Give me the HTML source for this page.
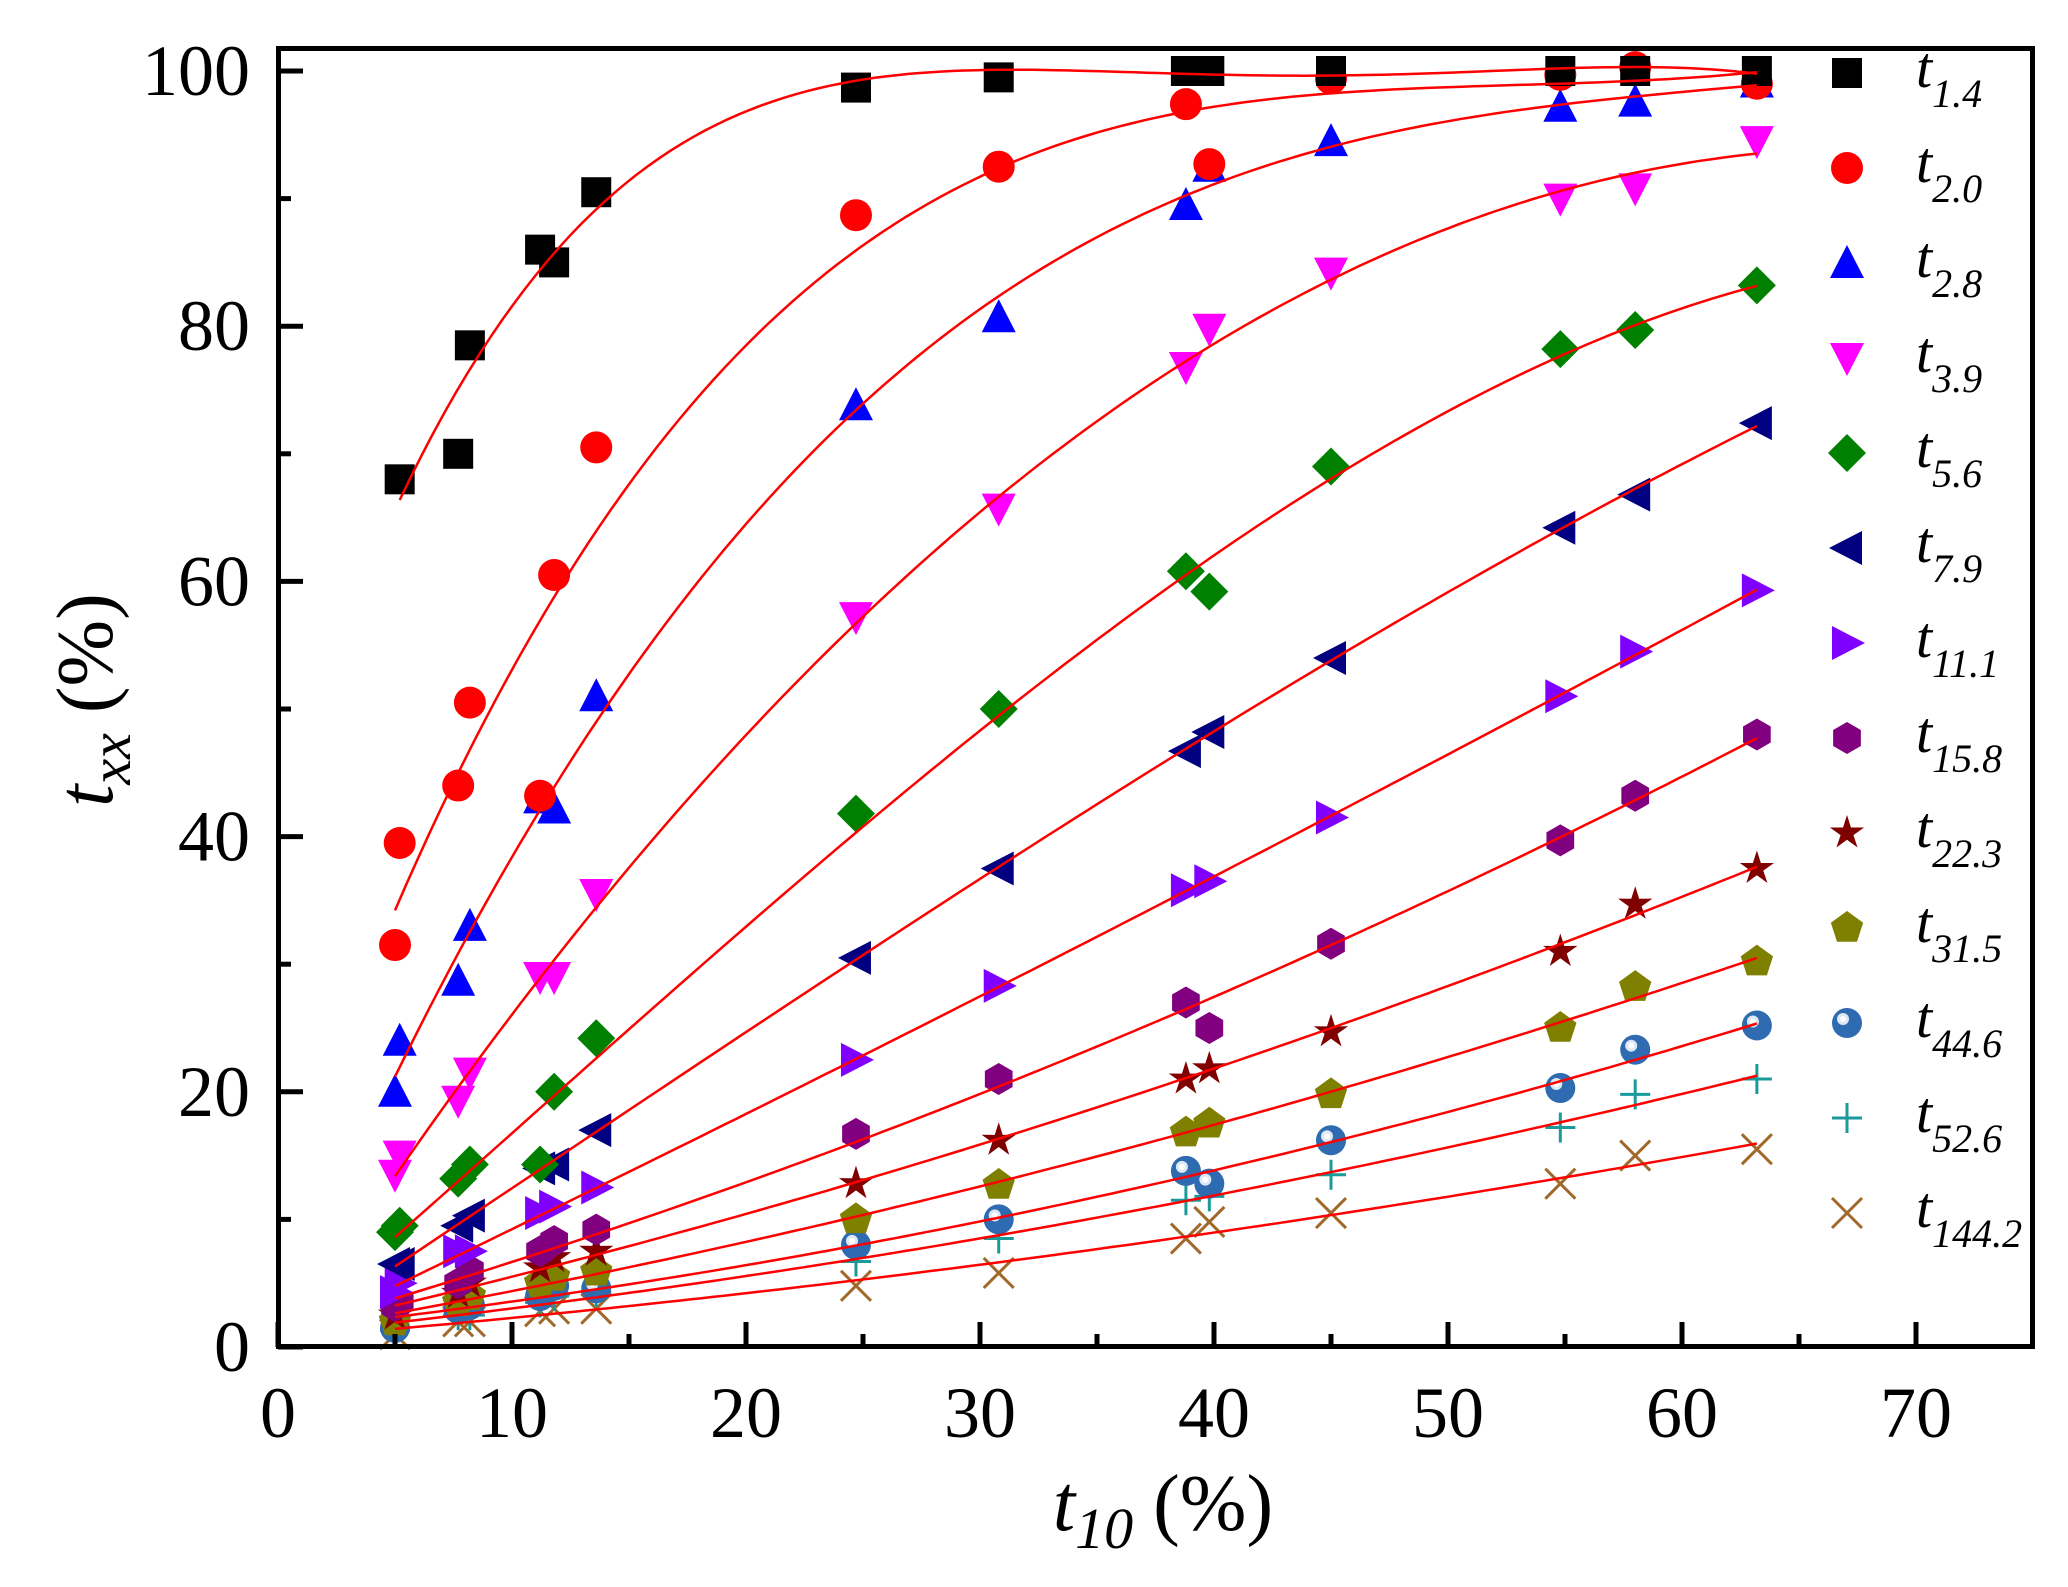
<!DOCTYPE html>
<html><head><meta charset="utf-8">
<style>
html,body{margin:0;padding:0;background:#fff;}
svg, svg text{font-family:"Liberation Serif","Times New Roman",Times,serif;}
</style></head>
<body>
<svg id="s" width="2068" height="1582" viewBox="0 0 2068 1582" xmlns="http://www.w3.org/2000/svg" font-family="Liberation Serif, Times New Roman, serif">
<rect width="2068" height="1582" fill="#fff"/>
<g id="plot"></g>
<rect x="278.5" y="48.5" width="1754" height="1298" fill="none" stroke="#000" stroke-width="5"/>
<g stroke="#000" stroke-width="5" id="ticks"></g>
<g font-size="72" text-anchor="middle" id="xl"></g>
<g font-size="72" text-anchor="end" id="yl"></g>
<text x="1163" y="1530" font-size="80" text-anchor="middle"><tspan font-style="italic">t</tspan><tspan font-style="italic" font-size="58" dy="18">10</tspan><tspan dy="-18"> (%)</tspan></text>
<text transform="translate(112,700) rotate(-90)" font-size="80" text-anchor="middle"><tspan font-style="italic">t</tspan><tspan font-style="italic" font-size="58" dy="18">xx</tspan><tspan dy="-18"> (%)</tspan></text>
<g id="leg"></g>
</svg>
<script>
const NS="http://www.w3.org/2000/svg";
const X=v=>278+v*23.4, Y=v=>1347-v*12.76;
function el(t,a,p){const e=document.createElementNS(NS,t);for(const k in a)e.setAttribute(k,a[k]);(p||document.getElementById('plot')).appendChild(e);return e;}
const tk=document.getElementById('ticks');
for(let v=0;v<=70;v+=5){const big=v%10==0;el('line',{x1:X(v),x2:X(v),y1:1347,y2:1347-(big?25:13)},tk);
 if(big)el('text',{x:X(v),y:1437},document.getElementById('xl')).textContent=v;}
for(let v=0;v<=100;v+=10){const big=v%20==0;el('line',{x1:278,x2:278+(big?25:13),y1:Y(v),y2:Y(v)},tk);
 if(big)el('text',{x:250,y:Y(v)+24},document.getElementById('yl')).textContent=v;}
const xs=[5,7.7,8.2,11.2,11.8,13.6,24.7,30.8,38.8,39.8,45,54.8,58,63.2];
const S=[
["1.4","#000","sq",[5.2,7.7,8.2,11.2,11.8,13.6,24.7,30.8,38.8,39.8,45,54.8,58,63.2],[68,70,78.5,86,85,90.5,98.7,99.5,100,100,100,100,100,100],4],
["2.0","#ff0000","ci",[5,5.2,7.7,8.2,11.2,11.8,13.6,24.7,30.8,38.8,39.8,45,54.8,58,63.2],[31.5,39.5,44,50.5,43.2,60.5,70.5,88.7,92.5,97.4,92.7,99.4,99.7,100.3,99],4],
["2.8","#0000ff","tu",[5,5.2,7.7,8.2,11.2,11.8,13.6,24.7,30.8,38.8,39.8,45,54.8,58,63.2],[20,24,28.7,33,43,42.2,51,73.8,80.7,89.5,92.5,94.5,97.2,97.6,99.1],3],
["3.9","#ff00ff","td",[5,5.2,7.7,8.2,11.2,11.8,13.6,24.7,30.8,38.8,39.8,45,54.8,58,63.2],[13.5,15,19.3,21.5,29,29,35.5,57.2,65.7,76.8,79.8,84.2,90,90.8,94.5],3],
["5.6","#008000","di",[5,5.2,7.7,8.2,11.2,11.8,13.6,24.7,30.8,38.8,39.8,45,54.8,58,63.2],[9,9.5,13.2,14.3,14.3,20,24.2,41.8,50,60.8,59.2,69,78.2,79.7,83.2],3],
["7.9","#000080","tl",[5,5.2,7.7,8.2,11.2,11.8,13.6,24.7,30.8,38.8,39.8,45,54.8,58,63.2],[6.5,6.5,9.5,10.3,14,14.3,17,30.5,37.5,46.7,48.2,54,64.2,66.8,72.4],3],
["11.1","#8000ff","tr",[5,5.2,7.7,8.2,11.2,11.8,13.6,24.7,30.8,38.8,39.8,45,54.8,58,63.2],[4.3,5,7.5,7.5,10.5,11,12.5,22.5,28.3,35.8,36.5,41.5,51,54.5,59.3],2],
["15.8","#800080","hx",[5,5.2,7.7,8.2,11.2,11.8,13.6,24.7,30.8,38.8,39.8,45,54.8,58,63.2],[3.2,3.5,5,6,7.5,8.3,9.2,16.7,21,27,25,31.6,39.7,43.2,48],2],
["22.3","#800000","st",xs,[2.5,4.2,5,6.2,7,7.5,12.8,16.2,21,21.8,24.7,31,34.7,37.5],2],
["31.5","#808000","pe",xs,[2,3.5,4,5,5.5,5.9,10,12.7,16.8,17.5,19.8,25,28.2,30.2],2],
["44.6","#2e6bb0","sp",xs,[1.5,3,3.3,4,4.8,4.6,8,10,13.8,12.8,16.2,20.3,23.3,25.2],2],
["52.6","#1a9a9a","pl",xs,[1.3,2.5,2.5,3.5,4,4.3,6.7,8.5,11.5,11.8,13.5,17.2,19.8,21],2],
["144.2","#a0692a","xx",xs,[1,2,2,2.8,3,3,4.8,5.8,8.5,9.8,10.5,12.8,15,15.5],2]];
function fit(x,y,d){const n=d+1,A=[],b=[];for(let i=0;i<n;i++){A.push(new Array(n).fill(0));b.push(0);}
 for(let k=0;k<x.length;k++){const u=x[k]/60;for(let i=0;i<n;i++){b[i]+=y[k]*Math.pow(u,i);for(let j=0;j<n;j++)A[i][j]+=Math.pow(u,i+j);}}
 for(let i=0;i<n;i++){let p=i;for(let r=i+1;r<n;r++)if(Math.abs(A[r][i])>Math.abs(A[p][i]))p=r;[A[i],A[p]]=[A[p],A[i]];[b[i],b[p]]=[b[p],b[i]];
  for(let r=0;r<n;r++)if(r!=i){const f=A[r][i]/A[i][i];for(let c=i;c<n;c++)A[r][c]-=f*A[i][c];b[r]-=f*b[i];}}
 const c=b.map((v,i)=>v/A[i][i]);return u=>c.reduce((s,ci,i)=>s+ci*Math.pow(u/60,i),0);}
function mk(type,col,cx,cy,g){const r=15;
 switch(type){
 case'sq':el('rect',{x:cx-r,y:cy-r,width:2*r,height:2*r,fill:col},g);break;
 case'ci':el('circle',{cx,cy,r:r+1,fill:col},g);break;
 case'tu':el('polygon',{points:`${cx},${cy-r-3} ${cx+r+2},${cy+r} ${cx-r-2},${cy+r}`,fill:col},g);break;
 case'td':el('polygon',{points:`${cx},${cy+r+3} ${cx+r+2},${cy-r} ${cx-r-2},${cy-r}`,fill:col},g);break;
 case'tl':el('polygon',{points:`${cx-r-3},${cy} ${cx+r},${cy-r-2} ${cx+r},${cy+r+2}`,fill:col},g);break;
 case'tr':el('polygon',{points:`${cx+r+3},${cy} ${cx-r},${cy-r-2} ${cx-r},${cy+r+2}`,fill:col},g);break;
 case'di':el('polygon',{points:`${cx},${cy-r-4} ${cx+r+4},${cy} ${cx},${cy+r+4} ${cx-r-4},${cy}`,fill:col},g);break;
 case'hx':{let p=[];for(let i=0;i<6;i++){const a=Math.PI/6+i*Math.PI/3;p.push((cx+(r+1)*Math.cos(a))+','+(cy+(r+1)*Math.sin(a)));}el('polygon',{points:p.join(' '),fill:col},g);break;}
 case'pe':{let p=[];for(let i=0;i<5;i++){const a=-Math.PI/2+i*2*Math.PI/5;p.push((cx+(r+2)*Math.cos(a))+','+(cy+(r+2)*Math.sin(a)));}el('polygon',{points:p.join(' '),fill:col},g);break;}
 case'st':{let p=[];for(let i=0;i<10;i++){const a=-Math.PI/2+i*Math.PI/5,rr=i%2?r*0.45:r+3;p.push((cx+rr*Math.cos(a))+','+(cy+rr*Math.sin(a)));}el('polygon',{points:p.join(' '),fill:col},g);break;}
 case'sp':el('circle',{cx,cy,r:r,fill:col},g);el('circle',{cx:cx-4,cy:cy-4,r:6,fill:'#dde8f5'},g);el('circle',{cx:cx-4,cy:cy-4,r:3,fill:'#fff'},g);break;
 case'pl':el('path',{d:`M${cx-r} ${cy}H${cx+r}M${cx} ${cy-r}V${cy+r}`,stroke:col,'stroke-width':3},g);break;
 case'xx':el('path',{d:`M${cx-r} ${cy-r}L${cx+r} ${cy+r}M${cx+r} ${cy-r}L${cx-r} ${cy+r}`,stroke:col,'stroke-width':3},g);break;}}
const P=document.getElementById('plot');
const gm=el('g',{},P),gl=el('g',{},P);
for(let si=S.length-1;si>=0;si--){const s=S[si];for(let k=0;k<s[3].length;k++)mk(s[2],s[1],X(s[3][k]),Y(s[4][k]),gm);}
S.forEach(s=>{const f=fit(s[3],s[4],s[5]);let d='';const x0=s[3][0];for(let i=0;i<=120;i++){const x=x0+(63.2-x0)*i/120;d+=(i?'L':'M')+X(x).toFixed(1)+' '+Y(f(x)).toFixed(1);}
 el('path',{d,fill:'none',stroke:'#ff0000','stroke-width':2.5},gl);});
const L=document.getElementById('leg');
S.forEach((s,i)=>{const y=73+i*95;mk(s[2],s[1],1847,y,L);
 const t=el('text',{x:1916,y:y+14,'font-size':58,'font-style':'italic'},L);
 t.innerHTML='t<tspan font-size="40" dy="20">'+s[0]+'</tspan>';});
</script>
</body></html>
